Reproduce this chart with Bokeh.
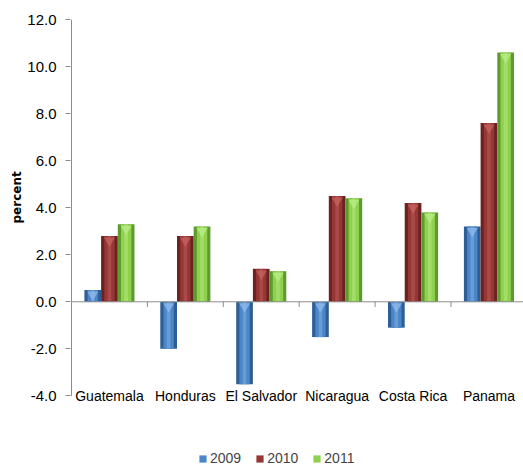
from bokeh.plotting import figure
from bokeh.models import Range1d, FixedTicker, Legend, LegendItem, NumeralTickFormatter, Title
from bokeh.core.properties import value
from bokeh.embed import file_html
from bokeh.resources import INLINE

countries = ["Guatemala", "Honduras", "El Salvador", "Nicaragua", "Costa Rica", "Panama"]
years = ["2009", "2010", "2011"]
v2009 = [0.5, -2.0, -3.5, -1.5, -1.1, 3.2]
v2010 = [2.8, 2.8, 1.4, 4.5, 4.2, 7.6]
v2011 = [3.3, 3.2, 1.3, 4.4, 3.8, 10.6]
y_ticks = [-4, -2, 0, 2, 4, 6, 8, 10, 12]

series = [v2009, v2010, v2011]
main_colors = ["#4A86C8", "#953735", "#8FD14F"]
edge_colors = ["#2D5E96", "#6A2321", "#5E9A2E"]
light_colors = ["#8DB8E8", "#C4605E", "#B8EC86"]

FONT = "Liberation Sans"
PX_PER_UNIT = 23.525
PX_PER_CAT = 75.9
TOP_PX = 19
H = 468
W = 523
LEFT = 70

y_start = y_ticks[-1] - (H - TOP_PX) / PX_PER_UNIT
x_start = -1.0 / PX_PER_CAT
x_end = x_start + (W - LEFT) / PX_PER_CAT

p = figure(width=W, height=H, output_backend="svg", toolbar_location=None,
           x_range=Range1d(x_start, x_end), y_range=Range1d(y_start, y_ticks[-1]),
           x_axis_location=None,
           min_border_left=LEFT, min_border_right=0, min_border_top=TOP_PX, min_border_bottom=0)
p.outline_line_color = None
p.grid.visible = False
p.background_fill_color = "white"
p.border_fill_color = "white"

centers = [i + 0.5 for i in range(len(countries))]
bw = 0.22
offsets = [-bw, 0.0, bw]

legend_renderers = []
for k, vals in enumerate(series):
    xs = [c + offsets[k] for c in centers]
    tops = [max(v, 0) for v in vals]
    bots = [min(v, 0) for v in vals]
    p.vbar(x=xs, top=tops, bottom=bots, width=bw, fill_color=edge_colors[k], line_color=None)
    r = p.vbar(x=xs, top=tops, bottom=bots, width=bw * 0.62, fill_color=main_colors[k], line_color=None)
    p.vbar(x=xs, top=tops, bottom=bots, width=bw * 0.22, fill_color=light_colors[k], line_color=None, fill_alpha=0.45)
    p.scatter(x=xs, y=[t - 0.2 for t in tops], marker="inverted_triangle", size=11,
              fill_color=light_colors[k], line_color=None, fill_alpha=0.8)
    legend_renderers.append(r)

# value axis line (from lowest to highest tick)
p.segment(x0=[0], y0=[y_ticks[0]], x1=[0], y1=[y_ticks[-1]], line_color="#8C8C8C", line_width=1)

# zero line and category ticks
p.segment(x0=[0], y0=[0], x1=[x_end], y1=[0], line_color="#8C8C8C", line_width=1)
cat_edges = list(range(len(countries) + 1))
p.segment(x0=cat_edges, y0=0, x1=cat_edges, y1=-0.22, line_color="#8C8C8C", line_width=1)

# category labels at the bottom of the value axis
p.text(x=centers, y=[y_ticks[0]] * len(centers), text=countries,
       text_align="center", text_baseline="middle",
       text_font=value(FONT), text_font_size="14px", text_color="black")

# y axis
ya = p.yaxis[0]
ya.ticker = FixedTicker(ticks=y_ticks)
ya.formatter = NumeralTickFormatter(format="0.0")
ya.minor_tick_line_color = None
ya.major_tick_in = 0
ya.major_tick_out = 5
ya.axis_line_color = None
ya.major_tick_line_color = "#8C8C8C"
ya.major_label_text_font = FONT
ya.major_label_text_font_size = "15px"
ya.major_label_text_color = "black"
ya.major_label_standoff = 9

# vertical axis title, placed beside the value axis
ytitle = Title(text="percent", align="left", offset=245, standoff=2,
               text_font="DejaVu Sans", text_font_size="12px", text_font_style="bold",
               text_color="black")
p.add_layout(ytitle, "left")

legend = Legend(items=[LegendItem(label=y, renderers=[r]) for y, r in zip(years, legend_renderers)],
                orientation="horizontal", location=(128, 2),
                label_text_font=FONT, label_text_font_size="14px",
                glyph_width=9, glyph_height=9, label_standoff=3, spacing=14,
                border_line_color=None, background_fill_alpha=0, margin=0, padding=0)
p.add_layout(legend, "center")

open("out.html", "w").write(file_html(p, INLINE))
